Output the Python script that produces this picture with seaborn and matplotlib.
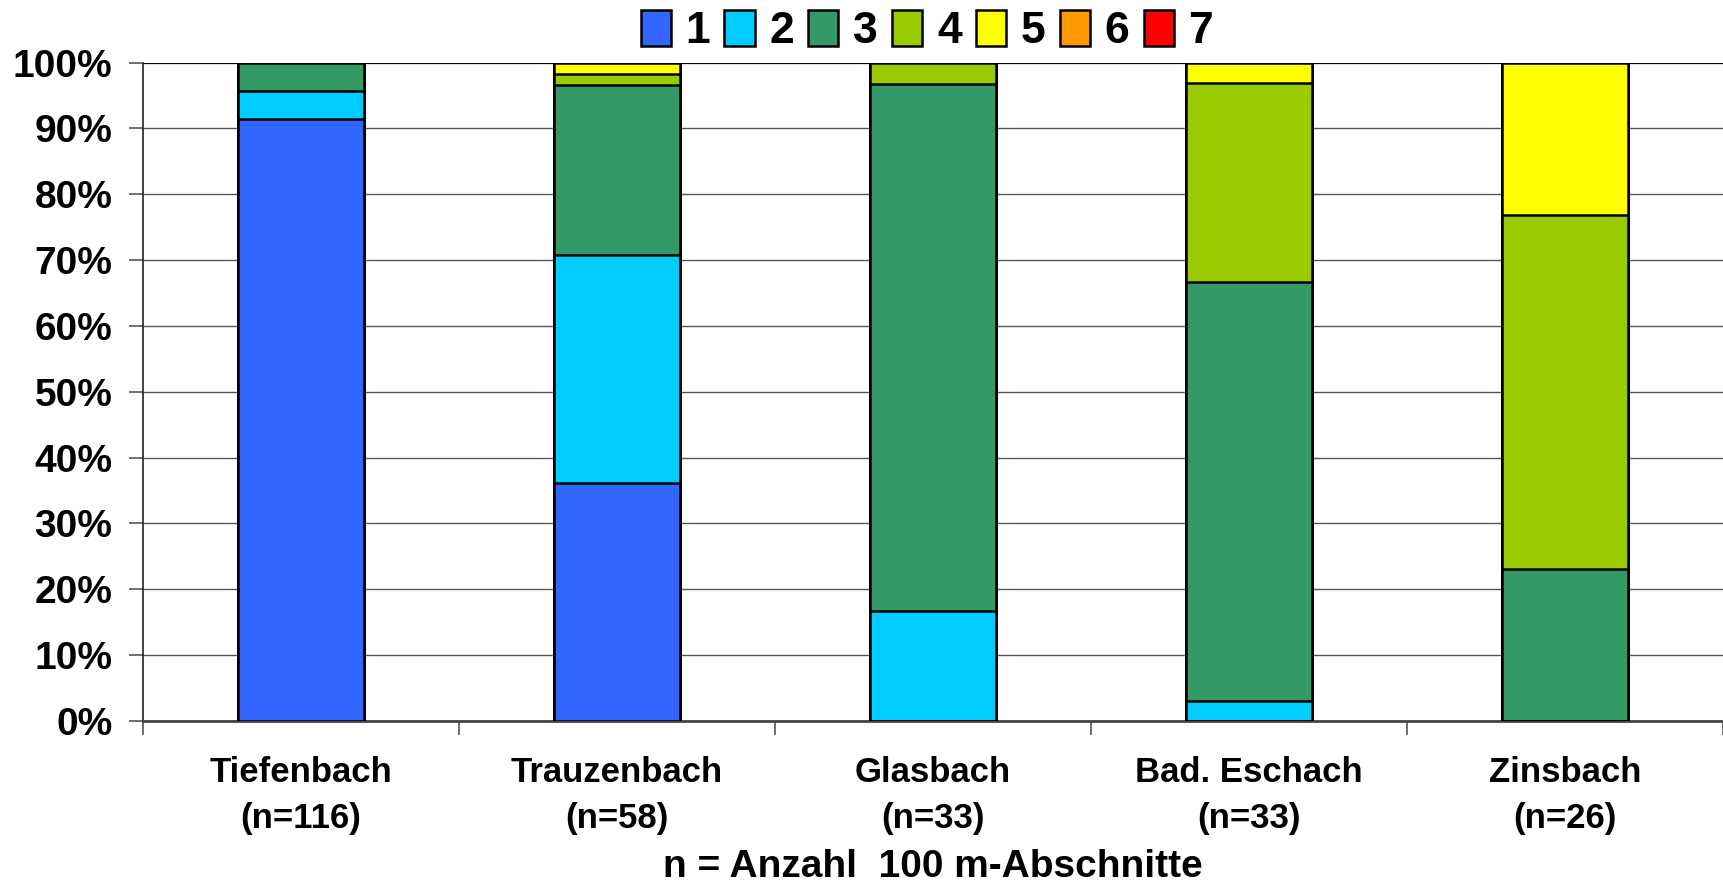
import numpy as np
import pandas as pd
import matplotlib
matplotlib.use("Agg")
import matplotlib.pyplot as plt
from matplotlib.patches import Patch
import seaborn as sns

# Streams and their number of 100 m sections
streams = ["Tiefenbach", "Trauzenbach", "Glasbach", "Bad. Eschach", "Zinsbach"]
n_sections = [116, 58, 33, 33, 26]

# Share (%) of each class per stream
class_labels = ["1", "2", "3", "4", "5", "6", "7"]
class_1 = [91.4, 36.2, 0.0, 0.0, 0.0]
class_2 = [4.3, 34.5, 16.7, 3.0, 0.0]
class_3 = [4.3, 25.9, 80.0, 63.6, 23.1]
class_4 = [0.0, 1.7, 3.3, 30.3, 53.8]
class_5 = [0.0, 1.7, 0.0, 3.1, 23.1]
class_6 = [0.0, 0.0, 0.0, 0.0, 0.0]
class_7 = [0.0, 0.0, 0.0, 0.0, 0.0]

class_colors = ["#3366FF", "#00CCFF", "#339966", "#99CC00", "#FFFF00", "#FF9900", "#FF0000"]

sns.set_theme(style="white")
plt.rcParams["font.family"] = ["Liberation Sans", "DejaVu Sans"]
plt.rcParams["font.weight"] = "bold"
plt.rcParams["text.color"] = "black"
plt.rcParams["axes.labelcolor"] = "black"
plt.rcParams["xtick.color"] = "black"
plt.rcParams["ytick.color"] = "black"

shares = np.array([class_1, class_2, class_3, class_4, class_5, class_6, class_7])
cumulative = np.cumsum(shares, axis=0)
cumulative = cumulative / cumulative[-1] * 100

tick_labels = [f"{s}\n(n={n})" for s, n in zip(streams, n_sections)]

fig = plt.figure(figsize=(17.23, 8.85), dpi=100)
ax = fig.add_axes([0.083, 0.1853, 0.917, 0.744])

# Stacked bars: draw cumulative totals from the top class down
for k in range(len(class_labels) - 1, -1, -1):
    df = pd.DataFrame({"stream": streams, "value": cumulative[k]})
    sns.barplot(data=df, x="stream", y="value", order=streams, color=class_colors[k],
                saturation=1, edgecolor="black", linewidth=1.8, width=0.4,
                ax=ax, zorder=3)

ax.set_ylim(0, 100)
ax.set_xlim(-0.5, 4.458)
ax.set_yticks(np.arange(0, 101, 10))
ax.set_yticklabels([f"{v}%" for v in range(0, 101, 10)], fontsize=28, fontweight="bold")
ax.grid(axis="y", color="#555555", linewidth=1.0, zorder=0)
ax.grid(axis="x", visible=False)
ax.axhline(100, color="black", linewidth=1.4, zorder=1)

ax.set_xticks(range(len(streams)))
ax.set_xticklabels(tick_labels, fontsize=25, fontweight="bold", linespacing=1.5)
ax.set_xticks(np.arange(-0.5, 5.0, 1.0), minor=True)
ax.tick_params(axis="x", which="major", length=0, pad=25)
ax.tick_params(axis="x", which="minor", length=10, width=1.2, color="#555555", bottom=True)
ax.tick_params(axis="y", which="major", length=10, width=1.2, color="#555555", left=True, pad=12)

ax.spines["right"].set_visible(False)
ax.spines["top"].set_visible(False)
ax.spines["left"].set_color("#222222")
ax.spines["left"].set_linewidth(1.2)
ax.spines["bottom"].set_color("#444444")
ax.spines["bottom"].set_linewidth(2.0)
ax.set_xlabel("n = Anzahl  100 m-Abschnitte", fontsize=28, fontweight="bold", labelpad=10)
ax.set_ylabel("")

handles = [Patch(facecolor=c, edgecolor="black", linewidth=1.8, label=l)
           for c, l in zip(class_colors, class_labels)]
fig.legend(handles=handles, loc="center", bbox_to_anchor=(0.538, 0.965), ncol=7,
           frameon=False, prop={"size": 32, "weight": "bold"},
           handlelength=0.68, handleheight=0.88, handletextpad=0.33, columnspacing=0.32,
           borderpad=0.1)

fig.savefig("out.png", dpi=100)
